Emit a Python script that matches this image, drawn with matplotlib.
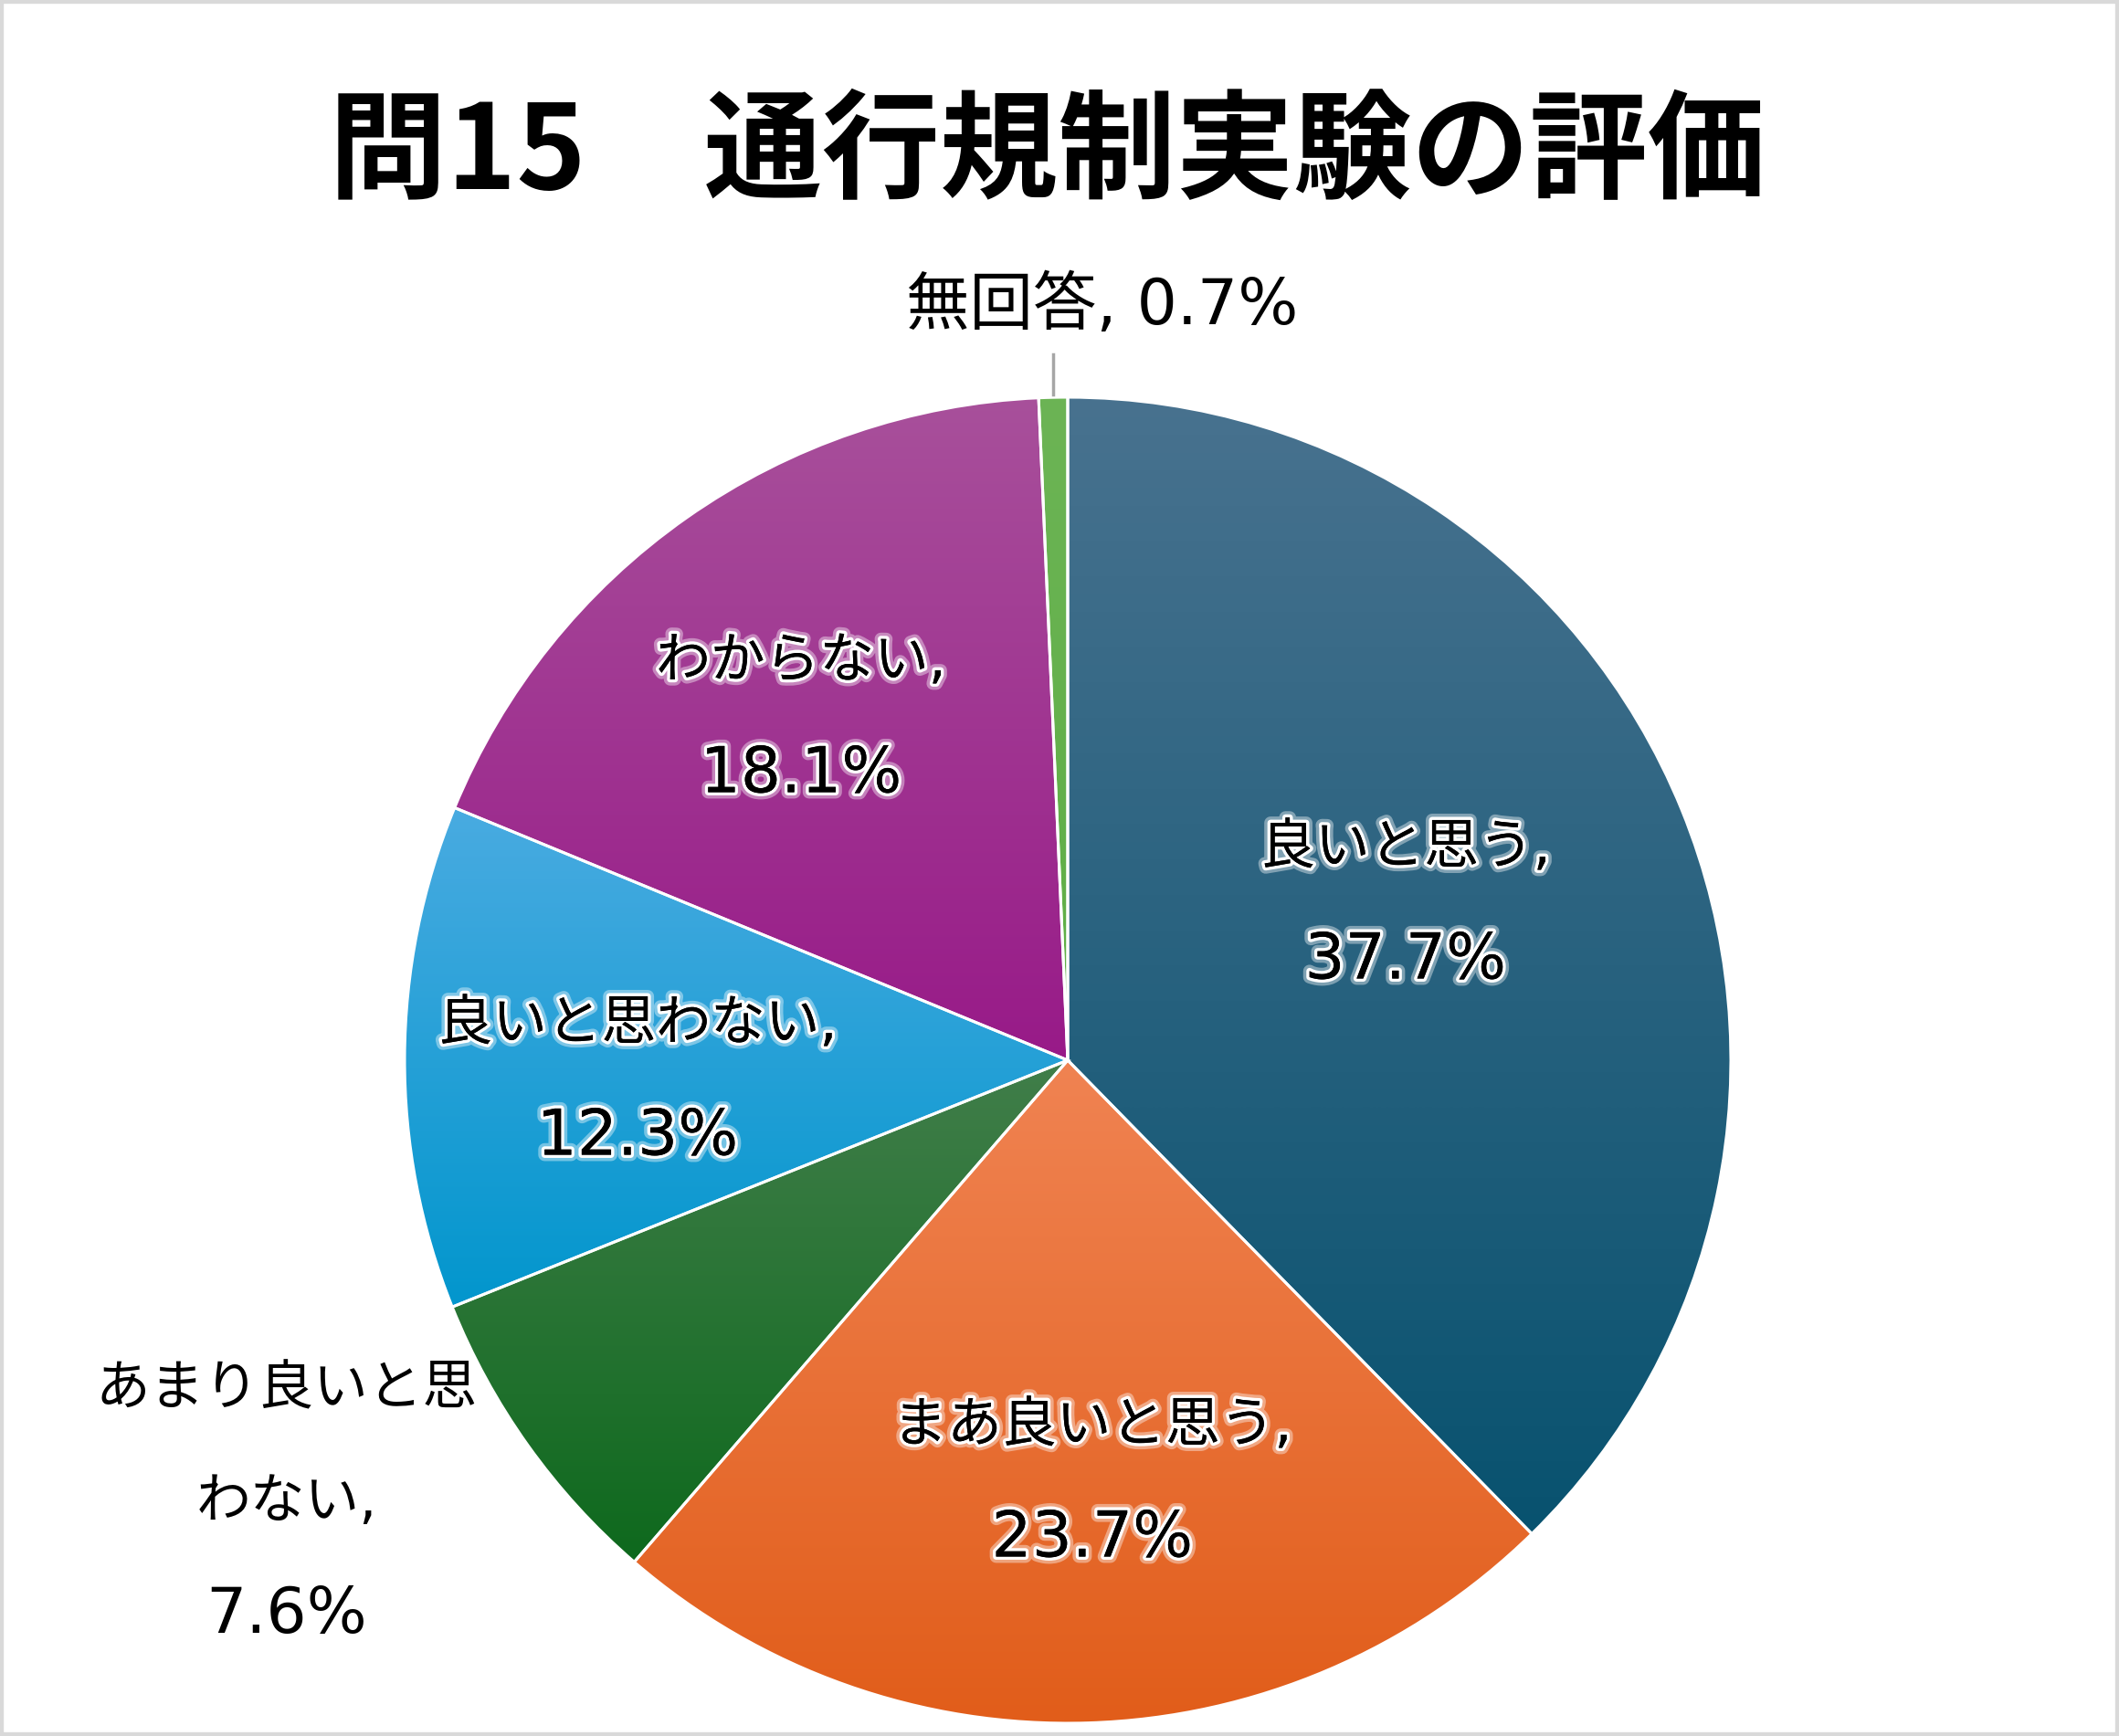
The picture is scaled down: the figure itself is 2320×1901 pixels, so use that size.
import numpy as np
import matplotlib
matplotlib.use('Agg')
import matplotlib.pyplot as plt
import matplotlib.patheffects as pe
from matplotlib.colors import to_rgb
from matplotlib.patches import Rectangle

plt.rcParams['font.family'] = ['Noto Sans CJK JP', 'DejaVu Sans']

#! Data
title = '問15\u3000通行規制実験の評価'
categories = ['良いと思う', 'まあ良いと思う', 'あまり良いと思わない',
              '良いと思わない', 'わからない', '無回答']
values = [37.7, 23.7, 7.6, 12.3, 18.1, 0.7]
# how the category name is wrapped in the label
label_names = ['良いと思う,', 'まあ良いと思う,', 'あまり良いと思\nわない,',
               '良いと思わない,', 'わからない,', '無回答,']

# gradient colours (top, bottom) per wedge
grad_colors = [('#48728f', '#08526f'),
               ('#f08352', '#e15d1a'),
               ('#417e4a', '#0e691d'),
               ('#49abe1', '#0296cd'),
               ('#a8509b', '#981a88'),
               ('#6cb455', '#5eae45')]

W, H = 2320, 1901
cx, cy, r = 1169, H - 1161, 726

fig = plt.figure(figsize=(W / 100, H / 100), dpi=100)
ax = fig.add_axes([0, 0, 1, 1])

wedges, _ = ax.pie(values, center=(cx, cy), radius=r, startangle=90,
                   counterclock=False, frame=True,
                   wedgeprops=dict(edgecolor='white', linewidth=2.2))

for w, (c_top, c_bot) in zip(wedges, grad_colors):
    bb = w.get_path().get_extents()
    t = np.linspace(0, 1, 256)[:, None]
    grad = (1 - t) * np.array(to_rgb(c_top)) + t * np.array(to_rgb(c_bot))
    im = ax.imshow(grad[:, None, :], extent=(bb.x0, bb.x1, bb.y0, bb.y1),
                   origin='upper', aspect='auto', interpolation='bicubic',
                   zorder=1)
    im.set_clip_path(w)
    w.set_facecolor('none')
    w.set_zorder(2)

# leader line for 無回答 (vertical, above the thin slice)
ang = np.deg2rad(90 + values[-1] * 3.6 / 2)
lx = cx + r * np.cos(ang)
ax.plot([lx, lx], [cy + r + 3, cy + r + 47], color='#a6a6a6', lw=2.5, zorder=3)

glow = [pe.withStroke(linewidth=10, foreground='white', alpha=0.4),
        pe.withStroke(linewidth=5, foreground='white'),
        pe.Normal()]
lat = ['DejaVu Sans', 'Noto Sans CJK JP']

# first-line centres of the inside / outside labels (picture pixels)
label_pos = [(1539, 929), (1196, 1562), (314, 1522), (698, 1122), (877, 725)]
inside = [True, True, False, True, True]
step = 123

for name, v, (px, py), ins in zip(label_names[:-1], values[:-1], label_pos, inside):
    lines = name.split('\n')
    pe_ = glow if ins else None
    for i, ln in enumerate(lines):
        ax.text(px, H - (py + i * step), ln, ha='center', va='center',
                fontsize=43, family=lat, color='black', zorder=4,
                path_effects=pe_)
    ax.text(px, H - (py + len(lines) * step), f'{v}%', ha='center',
            va='center', fontsize=50, family=lat, color='black', zorder=4,
            path_effects=pe_)

ax.text(1207, H - 335, f'{label_names[-1]} {values[-1]}%', ha='center',
        va='center', fontsize=50, family=lat, color='black', zorder=4)

fig.text(0.494, 1 - 170 / H, title, ha='center', va='center',
         fontsize=93, fontweight='bold')

ax.set_xlim(0, W)
ax.set_ylim(0, H)
ax.axis('off')

fig.patches.append(Rectangle((0, 0), 1, 1, transform=fig.transFigure,
                             fill=False, edgecolor='#d9d9d9', lw=6))

fig.savefig('out.png', dpi=100, facecolor='white')
